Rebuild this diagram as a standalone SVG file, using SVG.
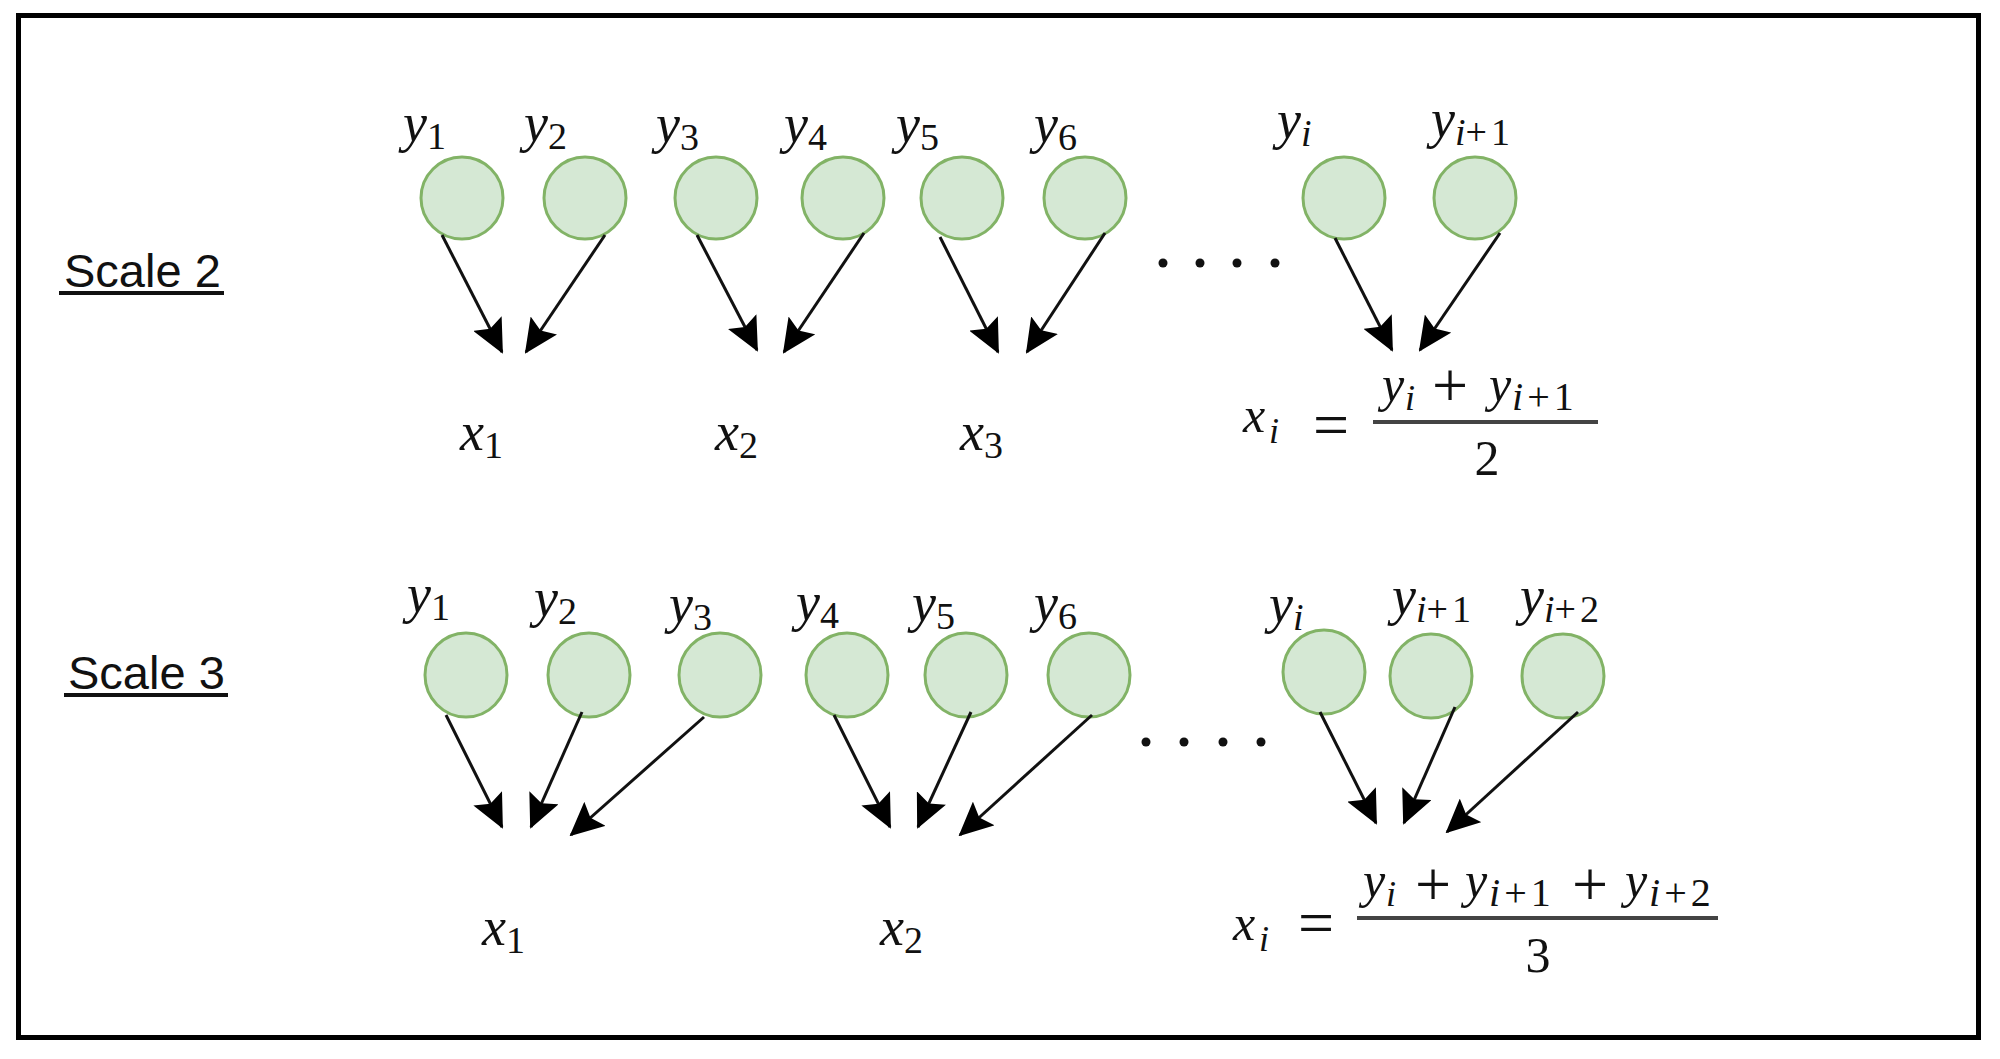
<svg xmlns="http://www.w3.org/2000/svg" width="2000" height="1059" viewBox="0 0 2000 1059">
<style>
.node{fill:#d5e8d4;stroke:#82b366;stroke-width:3}
.ul{stroke:#111;stroke-width:4}
.bar{stroke:#444;stroke-width:4}
.conn line{stroke:#111;stroke-width:3;marker-end:url(#head)}
.dot{fill:#111}
</style>
<defs>
<marker id="head" viewBox="0 0 34 32" refX="32" refY="16" markerWidth="34" markerHeight="32" markerUnits="userSpaceOnUse" orient="auto">
<path d="M0,0 L34,16 L0,32 L6,16 z" fill="#000"/>
</marker>
</defs>
<rect x="18.5" y="15.5" width="1960" height="1022" fill="#fff" stroke="#000" stroke-width="5"/>

<g id="title-scale2"><text font-family="Liberation Sans, Arial, sans-serif" font-size="47" fill="#111" x="64" y="287">Scale 2</text><line class="ul" x1="59" y1="293" x2="224" y2="293"/></g>
<g id="title-scale3"><text font-family="Liberation Sans, Arial, sans-serif" font-size="47" fill="#111" x="68" y="689">Scale 3</text><line class="ul" x1="64" y1="695" x2="228" y2="695"/></g>

<!-- Scale 2 nodes -->
<g id="s2-y1"><circle class="node" cx="462" cy="198" r="41"/><text font-family="Liberation Serif, serif" font-style="italic" font-size="54" fill="#111" x="403" y="141">y<tspan font-style="normal" font-size="38" dy="8">1</tspan></text></g>
<g id="s2-y2"><circle class="node" cx="585" cy="198" r="41"/><text font-family="Liberation Serif, serif" font-style="italic" font-size="54" fill="#111" x="524" y="141">y<tspan font-style="normal" font-size="38" dy="8">2</tspan></text></g>
<g id="s2-y3"><circle class="node" cx="716" cy="198" r="41"/><text font-family="Liberation Serif, serif" font-style="italic" font-size="54" fill="#111" x="656" y="142">y<tspan font-style="normal" font-size="38" dy="8">3</tspan></text></g>
<g id="s2-y4"><circle class="node" cx="843" cy="198" r="41"/><text font-family="Liberation Serif, serif" font-style="italic" font-size="54" fill="#111" x="784" y="142">y<tspan font-style="normal" font-size="38" dy="8">4</tspan></text></g>
<g id="s2-y5"><circle class="node" cx="962" cy="198" r="41"/><text font-family="Liberation Serif, serif" font-style="italic" font-size="54" fill="#111" x="896" y="142">y<tspan font-style="normal" font-size="38" dy="8">5</tspan></text></g>
<g id="s2-y6"><circle class="node" cx="1085" cy="198" r="41"/><text font-family="Liberation Serif, serif" font-style="italic" font-size="54" fill="#111" x="1034" y="142">y<tspan font-style="normal" font-size="38" dy="8">6</tspan></text></g>
<g id="s2-yi"><circle class="node" cx="1344" cy="198" r="41"/><text font-family="Liberation Serif, serif" font-style="italic" font-size="54" fill="#111" x="1277" y="138">y<tspan font-size="38" dy="8">i</tspan></text></g>
<g id="s2-yi1"><circle class="node" cx="1475" cy="198" r="41"/><text font-family="Liberation Serif, serif" font-style="italic" font-size="54" fill="#111" x="1431" y="137">y<tspan font-size="38" dy="8">i</tspan><tspan font-style="normal" font-size="38" letter-spacing="4">+1</tspan></text></g>

<g id="s2-x1"><text font-family="Liberation Serif, serif" font-style="italic" font-size="54" fill="#111" x="460" y="450">x<tspan font-style="normal" font-size="38" dy="8">1</tspan></text></g>
<g id="s2-x2"><text font-family="Liberation Serif, serif" font-style="italic" font-size="54" fill="#111" x="715" y="450">x<tspan font-style="normal" font-size="38" dy="8">2</tspan></text></g>
<g id="s2-x3"><text font-family="Liberation Serif, serif" font-style="italic" font-size="54" fill="#111" x="960" y="450">x<tspan font-style="normal" font-size="38" dy="8">3</tspan></text></g>
<g id="s2-dots"><circle class="dot" cx="1163" cy="263" r="4.5"/><circle class="dot" cx="1200" cy="263" r="4.5"/><circle class="dot" cx="1237" cy="263" r="4.5"/><circle class="dot" cx="1275" cy="263" r="4.5"/></g>

<g id="s2-formula">
<text font-family="Liberation Serif, serif" font-style="italic" font-size="50" fill="#111" x="1243" y="432">x</text>
<text font-family="Liberation Serif, serif" font-style="italic" font-size="36" fill="#111" x="1269" y="443">i</text>
<text font-family="Liberation Serif, serif" font-size="64" fill="#111" text-anchor="middle" x="1331" y="446">=</text>
<text font-family="Liberation Serif, serif" font-style="italic" font-size="50" fill="#111" x="1382" y="401">y</text>
<text font-family="Liberation Serif, serif" font-style="italic" font-size="36" fill="#111" x="1405" y="410">i</text>
<text font-family="Liberation Serif, serif" font-size="64" fill="#111" text-anchor="middle" x="1450" y="407">+</text>
<text font-family="Liberation Serif, serif" font-style="italic" font-size="50" fill="#111" x="1489" y="401">y</text>
<text font-family="Liberation Serif, serif" font-size="40" fill="#111" letter-spacing="4" x="1512" y="410"><tspan font-style="italic">i</tspan>+1</text>
<line class="bar" x1="1373" y1="422" x2="1598" y2="422"/>
<text font-family="Liberation Serif, serif" font-size="50" fill="#111" text-anchor="middle" x="1487" y="475">2</text>
</g>

<!-- Scale 3 nodes -->
<g id="s3-y1"><ellipse class="node" cx="466" cy="675" rx="41" ry="42"/><text font-family="Liberation Serif, serif" font-style="italic" font-size="54" fill="#111" x="407" y="612">y<tspan font-style="normal" font-size="38" dy="8">1</tspan></text></g>
<g id="s3-y2"><ellipse class="node" cx="589" cy="675" rx="41" ry="42"/><text font-family="Liberation Serif, serif" font-style="italic" font-size="54" fill="#111" x="534" y="616">y<tspan font-style="normal" font-size="38" dy="8">2</tspan></text></g>
<g id="s3-y3"><ellipse class="node" cx="720" cy="675" rx="41" ry="42"/><text font-family="Liberation Serif, serif" font-style="italic" font-size="54" fill="#111" x="669" y="622">y<tspan font-style="normal" font-size="38" dy="8">3</tspan></text></g>
<g id="s3-y4"><ellipse class="node" cx="847" cy="675" rx="41" ry="42"/><text font-family="Liberation Serif, serif" font-style="italic" font-size="54" fill="#111" x="796" y="620">y<tspan font-style="normal" font-size="38" dy="8">4</tspan></text></g>
<g id="s3-y5"><ellipse class="node" cx="966" cy="675" rx="41" ry="42"/><text font-family="Liberation Serif, serif" font-style="italic" font-size="54" fill="#111" x="912" y="621">y<tspan font-style="normal" font-size="38" dy="8">5</tspan></text></g>
<g id="s3-y6"><ellipse class="node" cx="1089" cy="675" rx="41" ry="42"/><text font-family="Liberation Serif, serif" font-style="italic" font-size="54" fill="#111" x="1034" y="621">y<tspan font-style="normal" font-size="38" dy="8">6</tspan></text></g>
<g id="s3-yi"><ellipse class="node" cx="1324" cy="672" rx="41" ry="42"/><text font-family="Liberation Serif, serif" font-style="italic" font-size="54" fill="#111" x="1269" y="622">y<tspan font-size="38" dy="8">i</tspan></text></g>
<g id="s3-yi1"><ellipse class="node" cx="1431" cy="676" rx="41" ry="42"/><text font-family="Liberation Serif, serif" font-style="italic" font-size="54" fill="#111" x="1392" y="614">y<tspan font-size="38" dy="8">i</tspan><tspan font-style="normal" font-size="38" letter-spacing="4">+1</tspan></text></g>
<g id="s3-yi2"><ellipse class="node" cx="1563" cy="676" rx="41" ry="42"/><text font-family="Liberation Serif, serif" font-style="italic" font-size="54" fill="#111" x="1520" y="614">y<tspan font-size="38" dy="8">i</tspan><tspan font-style="normal" font-size="38" letter-spacing="4">+2</tspan></text></g>

<g id="s3-x1"><text font-family="Liberation Serif, serif" font-style="italic" font-size="54" fill="#111" x="482" y="945">x<tspan font-style="normal" font-size="38" dy="8">1</tspan></text></g>
<g id="s3-x2"><text font-family="Liberation Serif, serif" font-style="italic" font-size="54" fill="#111" x="880" y="945">x<tspan font-style="normal" font-size="38" dy="8">2</tspan></text></g>
<g id="s3-dots"><circle class="dot" cx="1146" cy="742" r="4.5"/><circle class="dot" cx="1184" cy="742" r="4.5"/><circle class="dot" cx="1223" cy="742" r="4.5"/><circle class="dot" cx="1261" cy="742" r="4.5"/></g>

<g id="s3-formula">
<text font-family="Liberation Serif, serif" font-style="italic" font-size="50" fill="#111" x="1233" y="940">x</text>
<text font-family="Liberation Serif, serif" font-style="italic" font-size="36" fill="#111" x="1259" y="951">i</text>
<text font-family="Liberation Serif, serif" font-size="64" fill="#111" text-anchor="middle" x="1316" y="944">=</text>
<text font-family="Liberation Serif, serif" font-style="italic" font-size="50" fill="#111" x="1363" y="897">y</text>
<text font-family="Liberation Serif, serif" font-style="italic" font-size="36" fill="#111" x="1386" y="906">i</text>
<text font-family="Liberation Serif, serif" font-size="64" fill="#111" text-anchor="middle" x="1433" y="906">+</text>
<text font-family="Liberation Serif, serif" font-style="italic" font-size="50" fill="#111" x="1465" y="897">y</text>
<text font-family="Liberation Serif, serif" font-size="40" fill="#111" letter-spacing="4" x="1489" y="906"><tspan font-style="italic">i</tspan>+1</text>
<text font-family="Liberation Serif, serif" font-size="64" fill="#111" text-anchor="middle" x="1590" y="906">+</text>
<text font-family="Liberation Serif, serif" font-style="italic" font-size="50" fill="#111" x="1625" y="897">y</text>
<text font-family="Liberation Serif, serif" font-size="40" fill="#111" letter-spacing="4" x="1649" y="906"><tspan font-style="italic">i</tspan>+2</text>
<line class="bar" x1="1357" y1="918" x2="1718" y2="918"/>
<text font-family="Liberation Serif, serif" font-size="50" fill="#111" text-anchor="middle" x="1538" y="972">3</text>
</g>

<g id="connectors" class="conn">
<line x1="442" y1="235" x2="502" y2="352"/>
<line x1="605" y1="235" x2="526" y2="352"/>
<line x1="697" y1="235" x2="757" y2="350"/>
<line x1="864" y1="233" x2="784" y2="352"/>
<line x1="940" y1="237" x2="998" y2="352"/>
<line x1="1105" y1="233" x2="1027" y2="352"/>
<line x1="1335" y1="238" x2="1392" y2="350"/>
<line x1="1500" y1="233" x2="1420" y2="350"/>
<line x1="446" y1="715" x2="502" y2="827"/>
<line x1="582" y1="712" x2="531" y2="827"/>
<line x1="704" y1="717" x2="571" y2="835"/>
<line x1="834" y1="715" x2="890" y2="827"/>
<line x1="971" y1="712" x2="918" y2="827"/>
<line x1="1092" y1="715" x2="960" y2="835"/>
<line x1="1320" y1="712" x2="1376" y2="823"/>
<line x1="1455" y1="707" x2="1404" y2="823"/>
<line x1="1578" y1="712" x2="1447" y2="832"/>
</g>
</svg>
